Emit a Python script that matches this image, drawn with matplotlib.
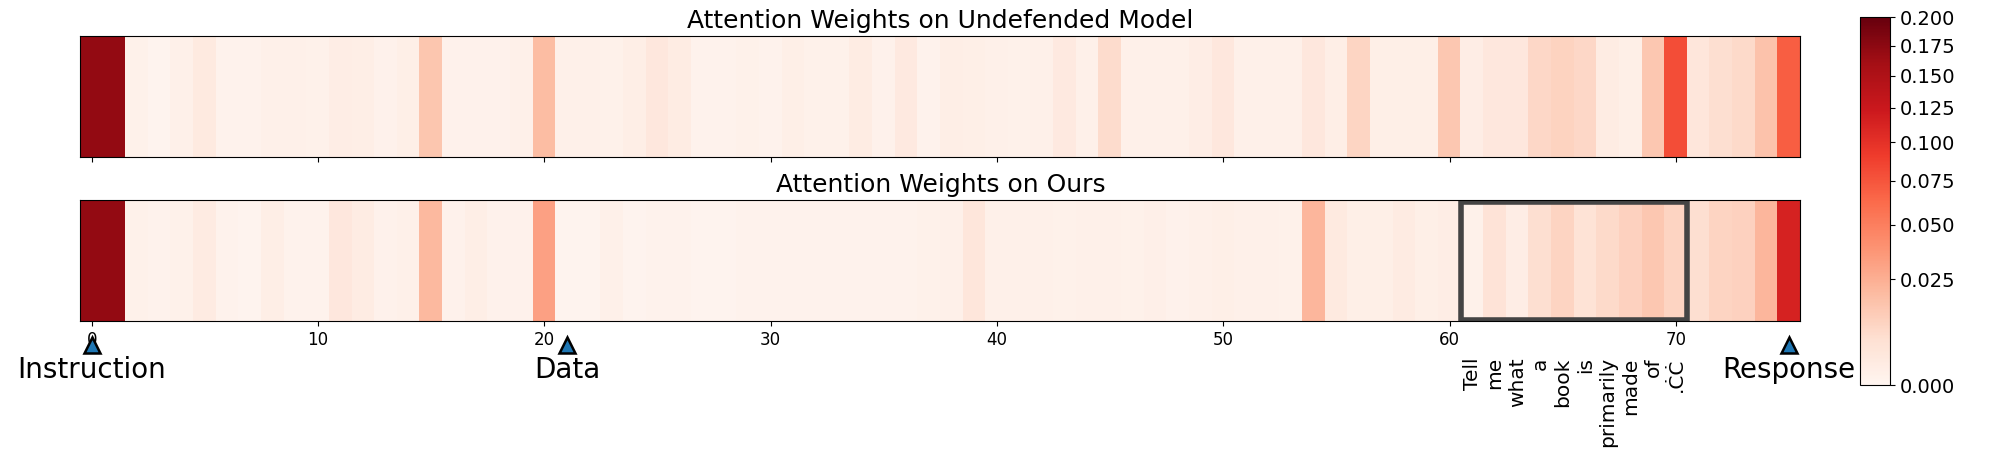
import matplotlib
matplotlib.use('Agg')
import matplotlib.pyplot as plt
import matplotlib.colors as mcolors
import matplotlib.transforms as mtransforms
from matplotlib.patches import Rectangle
import numpy as np

# attention weight per token position (0..75)
undefended = [
    0.170, 0.170, 0.0004, 0.0001, 0.0005, 0.0020, 0.0002, 0.0002, 0.0006, 0.0006,
    0.0004, 0.0012, 0.0010, 0.0003, 0.0008, 0.0150, 0.0003, 0.0003, 0.0003, 0.0005,
    0.0190, 0.0006, 0.0006, 0.0004, 0.0010, 0.0030, 0.0014, 0.0002, 0.0002, 0.0004,
    0.0002, 0.0008, 0.0004, 0.0004, 0.0014, 0.0003, 0.0022, 0.0002, 0.0010, 0.0008,
    0.0006, 0.0004, 0.0005, 0.0022, 0.0005, 0.0075, 0.0005, 0.0006, 0.0006, 0.0012,
    0.0030, 0.0006, 0.0006, 0.0006, 0.0030, 0.0010, 0.0095, 0.0008, 0.0008, 0.0008,
    0.0145, 0.0012, 0.0030, 0.0030, 0.0088, 0.0103, 0.0088, 0.0014, 0.0008, 0.0145,
    0.0800, 0.0035, 0.0065, 0.0080, 0.0165, 0.0690,
]
ours = [
    0.170, 0.170, 0.0004, 0.0002, 0.0004, 0.0016, 0.0002, 0.0001, 0.0010, 0.0002,
    0.0002, 0.0030, 0.0014, 0.0003, 0.0005, 0.0205, 0.0003, 0.0010, 0.0003, 0.0003,
    0.0317, 0.0001, 0.0001, 0.0005, 0.0001, 0.0002, 0.0002, 0.0001, 0.0001, 0.0002,
    0.0002, 0.0002, 0.0002, 0.0002, 0.0002, 0.0002, 0.0002, 0.0004, 0.0005, 0.0035,
    0.0005, 0.0006, 0.0005, 0.0004, 0.0006, 0.0006, 0.0004, 0.0007, 0.0003, 0.0005,
    0.0008, 0.0005, 0.0006, 0.0004, 0.0215, 0.0020, 0.0008, 0.0008, 0.0016, 0.0008,
    0.0012, 0.0004, 0.0045, 0.0012, 0.0065, 0.0100, 0.0050, 0.0080, 0.0110, 0.0145,
    0.0100, 0.0065, 0.0100, 0.0110, 0.0215, 0.1140,
]

marker_pos = [0, 21, 75]
marker_labels = ['Instruction', 'Data', 'Response']
words = ['Tell', 'me', 'what', 'a', 'book', 'is', 'primarily', 'made', 'of', '.ĊĊ']
word_start = 61
box_range = (60.5, 70.5)

norm = mcolors.PowerNorm(gamma=0.6, vmin=0, vmax=0.2)

fig = plt.figure(figsize=(20, 4.59), dpi=100)
ax1 = fig.add_axes([0.0402, 0.658, 0.86, 0.2636])
ax2 = fig.add_axes([0.0402, 0.3007, 0.86, 0.2629])
cax = fig.add_axes([0.930, 0.1612, 0.015, 0.801])

im = ax1.imshow(np.array([undefended]), cmap='Reds', norm=norm, aspect='auto')
ax2.imshow(np.array([ours]), cmap='Reds', norm=norm, aspect='auto')

ax1.set_title('Attention Weights on Undefended Model', fontsize=18)
ax2.set_title('Attention Weights on Ours', fontsize=18)
for ax in (ax1, ax2):
    ax.set_yticks([])
    ax.set_xticks(range(0, 71, 10))
ax1.tick_params(axis='x', labelbottom=False)
ax2.tick_params(axis='x', labelsize=12)

# highlight injected instruction
ax2.add_patch(Rectangle((box_range[0], -0.49), box_range[1] - box_range[0], 0.98,
                        fill=False, edgecolor='#444444', linewidth=4))

trans = mtransforms.blended_transform_factory(ax2.transData, ax2.transAxes)
ax2.plot(marker_pos, [-0.2] * len(marker_pos), '^', color='#1f77b4', markersize=11,
         markeredgecolor='black', markeredgewidth=1.8, transform=trans, clip_on=False)
for x, lab in zip(marker_pos, marker_labels):
    ax2.text(x, -0.29, lab, transform=trans, ha='center', va='top', fontsize=20)
for i, w in enumerate(words):
    ax2.text(word_start + i, -0.30, w, transform=trans, ha='center', va='top',
             rotation=90, fontsize=14.5)

cb = fig.colorbar(im, cax=cax, ticks=np.arange(0, 0.2001, 0.025), format='%.3f')
cb.ax.tick_params(labelsize=14)

fig.savefig('out.png', dpi=100)
